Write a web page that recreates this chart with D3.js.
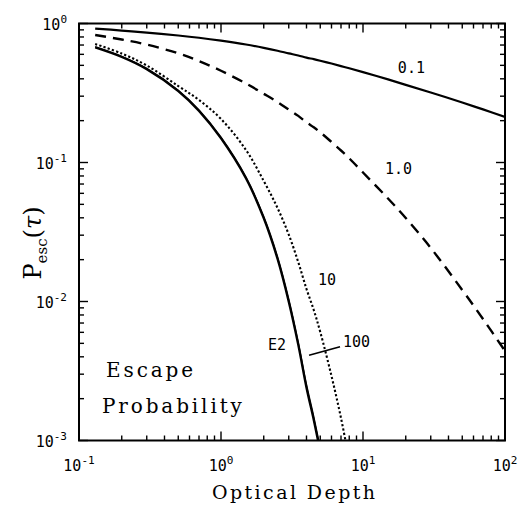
<!DOCTYPE html>
<html><head><meta charset="utf-8">
<script src="https://cdn.jsdelivr.net/npm/d3@7"></script>
<style>body{margin:0;background:#fff}</style>
</head><body>
<svg id="c" width="518" height="505"></svg>
<script>
// ---- data ----
const tau   = [0.13,0.2,0.3,0.5,0.7,1,1.5,2,2.5,3,3.5,4,4.5,5,6,7,8,10,15,20,30,50,70,100];
const p0_1  = [0.920,0.890,0.860,0.820,0.790,0.753,0.706,0.668,0.637,0.610,0.589,0.568,0.554,0.540,0.515,0.494,0.476,0.447,0.396,0.362,0.319,0.270,0.241,0.213];
const p1_0  = [0.827,0.767,0.705,0.610,0.537,0.457,0.370,0.312,0.2724,0.2405,0.2164,0.1946,0.1791,0.1649,0.1404,0.1220,0.1072,0.0847,0.0551,0.0399,0.0243,0.0121,0.00748,0.00441];
const p10   = [0.712,0.608,0.499,0.355,0.2816,0.2056,0.1230,0.0736,0.0471,0.0303,0.0192,0.0123,0.00869,0.00604,0.00291,0.00145,0.00072,null,null,null,null,null,null,null];
const p100  = [0.680,0.580,0.475,0.331,0.239,0.152,0.0785,0.0408,0.0210,0.0104,0.0051,0.00252,0.00148,0.00088,null,null,null,null,null,null,null,null,null,null];
const pE2   = [0.672,0.574,0.469,0.3266,0.235,0.149,0.0767,0.0396,0.0202,0.00992,0.00486,0.00239,0.00140,0.000826,null,null,null,null,null,null,null,null,null,null];

const xMajor = [0.1,1,10,100];
const xMajorExp = ["-1","0","1","2"];
const yMajor = [0.001,0.01,0.1,1];
const yMajorExp = ["-3","-2","-1","0"];

// curve labels: [text, tau, P]
const curveLabels = [["0.1",17.6,0.44],["1.0",14.3,0.0826],["10",4.82,0.0131],["100",7.23,0.0047],["E2",2.14,0.00448]];
const leader = [[4.17,0.0041],[6.89,0.00473]];
const boxText = [["Escape",0.155,0.00286,87],["Probability",0.145,0.00158,140]];

// ---- layout ----
const W=518,H=505;
const m={l:79,r:13,t:23.5,b:64.5};
const svg=d3.select("#c");
const x=d3.scaleLog().domain([0.1,100]).range([m.l,W-m.r]);
const y=d3.scaleLog().domain([0.001,1]).range([H-m.b,m.t]);

svg.append("defs").append("clipPath").attr("id","clip").append("rect")
  .attr("x",m.l).attr("y",m.t).attr("width",W-m.l-m.r).attr("height",H-m.t-m.b);

const isMajor=v=>Math.abs(Math.log10(v)-Math.round(Math.log10(v)))<1e-6;
const tk=svg.append("g").attr("stroke","#000").attr("stroke-width",1.4);
x.ticks().forEach(v=>{
  const L=isMajor(v)?9:5, px=x(v);
  tk.append("line").attr("x1",px).attr("x2",px).attr("y1",H-m.b).attr("y2",H-m.b-L);
  tk.append("line").attr("x1",px).attr("x2",px).attr("y1",m.t).attr("y2",m.t+L);
});
y.ticks().forEach(v=>{
  const L=isMajor(v)?9:5, py=y(v);
  tk.append("line").attr("y1",py).attr("y2",py).attr("x1",m.l).attr("x2",m.l+L);
  tk.append("line").attr("y1",py).attr("y2",py).attr("x1",W-m.r).attr("x2",W-m.r-L);
});
svg.append("rect").attr("x",m.l).attr("y",m.t).attr("width",W-m.l-m.r).attr("height",H-m.t-m.b)
  .attr("fill","none").attr("stroke","#000").attr("stroke-width",2);

// tick labels
const tf="DejaVu Sans Mono, monospace";
xMajor.forEach((v,i)=>{
  const t=svg.append("text").attr("x",x(v)).attr("y",471).attr("text-anchor","middle")
    .attr("font-family",tf).attr("font-size",15);
  t.append("tspan").text("10");
  t.append("tspan").attr("font-size",11).attr("dy",-7).text(xMajorExp[i]);
});
yMajor.forEach((v,i)=>{
  const t=svg.append("text").attr("x",67).attr("y",y(v)+6).attr("text-anchor","end")
    .attr("font-family",tf).attr("font-size",15);
  t.append("tspan").text("10");
  t.append("tspan").attr("font-size",11).attr("dy",-7).text(yMajorExp[i]);
});

// axis titles
const sf="DejaVu Serif, Liberation Serif, serif";
svg.append("text").attr("x",212).attr("y",499)
  .attr("font-family",sf).attr("font-size",19).attr("textLength",163).attr("lengthAdjust","spacing").text("Optical Depth");
const yt=svg.append("text").attr("transform","translate(41,243) rotate(-90)").attr("text-anchor","middle")
  .attr("font-family",sf).attr("font-size",24);
yt.append("tspan").text("P");
yt.append("tspan").attr("font-size",15).attr("dy",6).text("esc");
yt.append("tspan").attr("dy",-6).text("(");
yt.append("tspan").attr("font-style","italic").text("τ");
yt.append("tspan").text(")");

// curves
const line=d3.line().defined(d=>d[1]!=null).x(d=>x(d[0])).y(d=>y(d[1])).curve(d3.curveCatmullRom.alpha(0.5));
const g=svg.append("g").attr("clip-path","url(#clip)").attr("fill","none").attr("stroke","#000");
function draw(vals,w,dash){
  const p=g.append("path").datum(tau.map((t,i)=>[t,vals[i]])).attr("d",line).attr("stroke-width",w);
  if(dash) p.attr("stroke-dasharray",dash);
  return p;
}
draw(p0_1,2.2);
draw(p1_0,2.4,"11,7");
draw(p10,2.1,"2.2,2.2");
draw(p100,1.5);
draw(pE2,2.2);

// labels
curveLabels.forEach(d=>{
  svg.append("text").attr("x",x(d[1])).attr("y",y(d[2])).attr("font-family","DejaVu Sans Mono, monospace").attr("font-size",15).text(d[0]);
});
svg.append("line").attr("x1",x(leader[0][0])).attr("y1",y(leader[0][1]))
  .attr("x2",x(leader[1][0])).attr("y2",y(leader[1][1])).attr("stroke","#000").attr("stroke-width",1.6);
boxText.forEach(d=>{
  svg.append("text").attr("x",x(d[1])).attr("y",y(d[2])).attr("font-family",sf).attr("font-size",20)
    .attr("textLength",d[3]).attr("lengthAdjust","spacing").text(d[0]);
});
</script>
</body></html>
